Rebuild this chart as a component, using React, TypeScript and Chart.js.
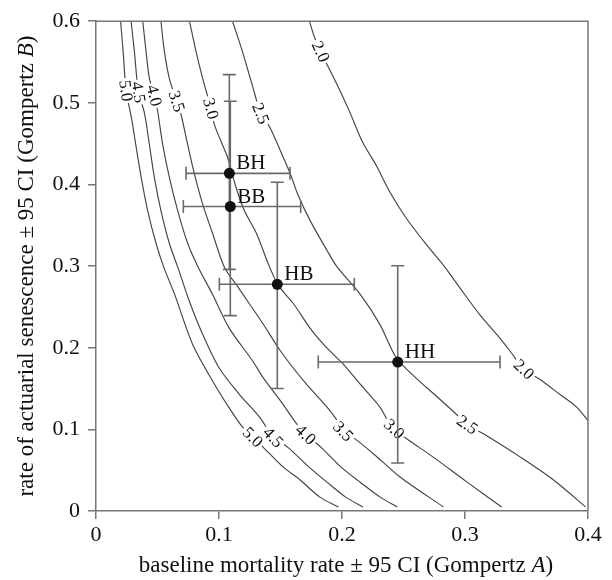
import React, { useEffect, useRef } from 'react';
import { Chart, registerables } from 'chart.js';

Chart.register(...registerables);

// ---- axis ticks ----
const xTickValues = [0, 0.1, 0.2, 0.3, 0.4];
const xTickLabels = ['0', '0.1', '0.2', '0.3', '0.4'];
const yTickValues = [0, 0.1, 0.2, 0.3, 0.4, 0.5, 0.6];
const yTickLabels = ['0', '0.1', '0.2', '0.3', '0.4', '0.5', '0.6'];

// ---- contour lines (Gompertz A, Gompertz B) ----
const contour50: [number, number][] = [
  [0.0200, 0.600], [0.0222, 0.560], [0.0245, 0.515], [0.0290, 0.480], [0.0322, 0.450],
  [0.0366, 0.410], [0.0420, 0.368], [0.0488, 0.328], [0.0548, 0.300], [0.0640, 0.265],
  [0.0786, 0.204], [0.0949, 0.159], [0.1080, 0.127], [0.1190, 0.103], [0.1275, 0.0905],
  [0.1360, 0.078], [0.1520, 0.054], [0.1660, 0.038], [0.1820, 0.017], [0.1970, 0.005],
];
const contour45: [number, number][] = [
  [0.0285, 0.600], [0.0312, 0.563], [0.0345, 0.513], [0.0393, 0.488], [0.0434, 0.449],
  [0.0474, 0.409], [0.0528, 0.368], [0.0596, 0.328], [0.0664, 0.299], [0.0759, 0.257],
  [0.0867, 0.2165], [0.1000, 0.1755], [0.1165, 0.143], [0.1330, 0.115], [0.1442, 0.0904],
  [0.1560, 0.078], [0.1730, 0.054], [0.1880, 0.035], [0.2030, 0.017], [0.2170, 0.005],
];
const contour40: [number, number][] = [
  [0.0380, 0.600], [0.0407, 0.563], [0.0434, 0.530], [0.0474, 0.509], [0.0501, 0.490],
  [0.0542, 0.449], [0.0596, 0.409], [0.0664, 0.368], [0.0745, 0.328], [0.0830, 0.299],
  [0.0949, 0.265], [0.1083, 0.224], [0.1274, 0.1837], [0.1360, 0.163], [0.1500, 0.135],
  [0.1630, 0.107], [0.1705, 0.0937], [0.1830, 0.078], [0.1990, 0.054], [0.2150, 0.035],
  [0.2310, 0.017], [0.2450, 0.005],
];
const contour35: [number, number][] = [
  [0.0528, 0.600], [0.0556, 0.563], [0.0596, 0.530], [0.0656, 0.502], [0.0691, 0.486],
  [0.0745, 0.449], [0.0800, 0.413], [0.0867, 0.376], [0.0948, 0.340], [0.1043, 0.299],
  [0.1160, 0.273], [0.1355, 0.230], [0.1500, 0.196], [0.1690, 0.159], [0.1880, 0.127],
  [0.1960, 0.111], [0.2010, 0.0977], [0.2106, 0.0884], [0.2255, 0.0702], [0.2472, 0.0417],
  [0.2824, 0.005],
];
const contour30: [number, number][] = [
  [0.0760, 0.600], [0.0813, 0.563], [0.0867, 0.530], [0.0935, 0.493], [0.0962, 0.4736],
  [0.1016, 0.453], [0.1070, 0.433], [0.1138, 0.3966], [0.1206, 0.368], [0.1305, 0.340],
  [0.1395, 0.305], [0.1480, 0.277], [0.1610, 0.253], [0.1740, 0.224], [0.1875, 0.200],
  [0.2010, 0.180], [0.2150, 0.155], [0.2310, 0.127], [0.2370, 0.111], [0.2425, 0.1006],
  [0.2526, 0.0884], [0.2742, 0.066], [0.3014, 0.0357], [0.3298, 0.005],
];
const contour25: [number, number][] = [
  [0.1110, 0.600], [0.1190, 0.563], [0.1270, 0.522], [0.1340, 0.487], [0.1415, 0.4696],
  [0.1500, 0.441], [0.1580, 0.413], [0.1640, 0.388], [0.1740, 0.356], [0.1875, 0.320],
  [0.1960, 0.299], [0.2150, 0.265], [0.2310, 0.228], [0.2440, 0.188], [0.2600, 0.163],
  [0.2780, 0.139], [0.2940, 0.117], [0.3019, 0.1058], [0.3150, 0.0945], [0.3450, 0.066],
  [0.3720, 0.038], [0.3980, 0.005],
];
const contour20: [number, number][] = [
  [0.1735, 0.600], [0.1775, 0.581], [0.1827, 0.5628], [0.1900, 0.5405], [0.1980, 0.516],
  [0.2065, 0.488], [0.2170, 0.451], [0.2280, 0.423], [0.2390, 0.3905], [0.2526, 0.358],
  [0.2690, 0.3256], [0.2830, 0.300], [0.2960, 0.273], [0.3120, 0.2405], [0.3260, 0.216],
  [0.3366, 0.196], [0.3480, 0.1736], [0.3610, 0.161], [0.3770, 0.143], [0.3910, 0.127],
  [0.4000, 0.1107],
];
const contourLevels = ['2.0', '2.5', '3.0', '3.5', '4.0', '4.5', '5.0'];
const contourLines = [contour20, contour25, contour30, contour35, contour40, contour45, contour50];

// contour label positions (level index, A, B)
const contourLabelLevel = [0, 1, 2, 3, 4, 5, 6, 0, 1, 2, 3, 4, 5, 6];
const contourLabelA = [0.1827, 0.1340, 0.0935, 0.0656, 0.0474, 0.0345, 0.0245, 0.3480, 0.3019, 0.2425, 0.2010, 0.1705, 0.1442, 0.1275];
const contourLabelB = [0.5628, 0.4870, 0.4930, 0.5020, 0.5090, 0.5130, 0.5150, 0.1736, 0.1058, 0.1006, 0.0977, 0.0937, 0.0904, 0.0905];

// ---- groups with 95% CI ----
const groupNames = ['BH', 'BB', 'HB', 'HH'];
const groupA = [0.1084, 0.1092, 0.1474, 0.2453];
const groupALow = [0.0732, 0.0710, 0.1003, 0.1807];
const groupAHigh = [0.1577, 0.1664, 0.2100, 0.3285];
const groupB = [0.4136, 0.3730, 0.2777, 0.1825];
const groupBLow = [0.2960, 0.2393, 0.1500, 0.0588];
const groupBHigh = [0.5345, 0.5020, 0.4027, 0.3005];

const SERIF = '"Liberation Serif", "Times New Roman", serif';

type Part = { text: string; italic?: boolean };
const xTitle: Part[] = [{ text: 'baseline mortality rate ± 95 CI (Gompertz ' }, { text: 'A', italic: true }, { text: ')' }];
const yTitle: Part[] = [{ text: 'rate of actuarial senescence ± 95 CI (Gompertz ' }, { text: 'B', italic: true }, { text: ')' }];

function drawMixed(ctx: CanvasRenderingContext2D, parts: Part[], cx: number, cy: number, size: number) {
  const fonts = parts.map((p) => `${p.italic ? 'italic ' : ''}${size}px ${SERIF}`);
  let total = 0;
  const widths = parts.map((p, i) => {
    ctx.font = fonts[i];
    const w = ctx.measureText(p.text).width;
    total += w;
    return w;
  });
  let x = cx - total / 2;
  ctx.textAlign = 'left';
  ctx.textBaseline = 'alphabetic';
  parts.forEach((p, i) => {
    ctx.font = fonts[i];
    ctx.fillText(p.text, x, cy);
    x += widths[i];
  });
}

const overlayPlugin = {
  id: 'overlay',
  beforeDatasetDraw(chart: any, args: any) {
    if (args.index !== 0) return;
    const ctx: CanvasRenderingContext2D = chart.ctx;
    const xs = chart.scales.x;
    const ys = chart.scales.y;
    // contour labels
    ctx.save();
    ctx.font = `17px ${SERIF}`;
    contourLabelLevel.forEach((lev, k) => {
      const pts = contourLines[lev];
      const a = contourLabelA[k];
      const b = contourLabelB[k];
      let best = 0;
      let bd = Infinity;
      pts.forEach((p, i) => {
        const d = Math.abs(p[1] - b);
        if (d < bd) { bd = d; best = i; }
      });
      const i0 = Math.max(0, best - 1);
      const i1 = Math.min(pts.length - 1, best + 1);
      const dx = xs.getPixelForValue(pts[i1][0]) - xs.getPixelForValue(pts[i0][0]);
      const dy = ys.getPixelForValue(pts[i1][1]) - ys.getPixelForValue(pts[i0][1]);
      const ang = Math.atan2(dy, dx);
      const px = xs.getPixelForValue(a);
      const py = ys.getPixelForValue(b);
      const txt = contourLevels[lev];
      const w = ctx.measureText(txt).width;
      ctx.save();
      ctx.translate(px, py);
      ctx.rotate(ang);
      ctx.fillStyle = '#fff';
      ctx.fillRect(-w / 2 - 2, -7, w + 4, 14);
      ctx.fillStyle = '#111';
      ctx.textAlign = 'center';
      ctx.textBaseline = 'middle';
      ctx.fillText(txt, 0, 1);
      ctx.restore();
    });
    ctx.restore();
    // error bars
    ctx.save();
    ctx.strokeStyle = '#6a6a6a';
    ctx.lineWidth = 1.6;
    const cap = 6.5;
    groupNames.forEach((_, i) => {
      const cx = xs.getPixelForValue(groupA[i]);
      const cy = ys.getPixelForValue(groupB[i]);
      const xl = xs.getPixelForValue(groupALow[i]);
      const xh = xs.getPixelForValue(groupAHigh[i]);
      const yl = ys.getPixelForValue(groupBLow[i]);
      const yh = ys.getPixelForValue(groupBHigh[i]);
      ctx.beginPath();
      ctx.moveTo(xl, cy); ctx.lineTo(xh, cy);
      ctx.moveTo(xl, cy - cap); ctx.lineTo(xl, cy + cap);
      ctx.moveTo(xh, cy - cap); ctx.lineTo(xh, cy + cap);
      ctx.moveTo(cx, yl); ctx.lineTo(cx, yh);
      ctx.moveTo(cx - cap, yl); ctx.lineTo(cx + cap, yl);
      ctx.moveTo(cx - cap, yh); ctx.lineTo(cx + cap, yh);
      ctx.stroke();
    });
    ctx.restore();
  },
  afterDatasetsDraw(chart: any) {
    const ctx: CanvasRenderingContext2D = chart.ctx;
    const xs = chart.scales.x;
    const ys = chart.scales.y;
    const area = chart.chartArea;
    ctx.save();
    ctx.strokeStyle = '#777';
    ctx.lineWidth = 1.5;
    ctx.beginPath();
    ctx.moveTo(area.left, area.top);
    ctx.lineTo(area.right, area.top);
    ctx.lineTo(area.right, area.bottom);
    ctx.stroke();
    ctx.fillStyle = '#111';
    ctx.font = `21px ${SERIF}`;
    ctx.textAlign = 'left';
    ctx.textBaseline = 'alphabetic';
    groupNames.forEach((n, i) => {
      const px = xs.getPixelForValue(groupA[i]);
      const py = ys.getPixelForValue(groupB[i]);
      ctx.fillText(n, px + 7, py - 4);
    });
    ctx.restore();
  },
  afterDraw(chart: any) {
    const ctx: CanvasRenderingContext2D = chart.ctx;
    const area = chart.chartArea;
    ctx.save();
    ctx.fillStyle = '#111';
    drawMixed(ctx, xTitle, (area.left + area.right) / 2 + 4, 572, 23);
    ctx.translate(33, (area.top + area.bottom) / 2);
    ctx.rotate(-Math.PI / 2);
    drawMixed(ctx, yTitle, 0, 0, 23);
    ctx.restore();
  },
};

export default function App() {
  const ref = useRef<HTMLCanvasElement>(null);
  useEffect(() => {
    if (!ref.current) return;
    const tickFont = { family: SERIF, size: 22 };
    const contourSets = contourLines.map((pts, i) => ({
      label: contourLevels[i],
      data: pts.map((p) => ({ x: p[0], y: p[1] })),
      showLine: true,
      borderColor: '#444',
      borderWidth: 1.15,
      pointRadius: 0,
      tension: 0.3,
      fill: false,
    }));
    const chart = new Chart(ref.current, {
      type: 'scatter',
      data: {
        datasets: [
          {
            label: 'groups',
            data: groupA.map((a, i) => ({ x: a, y: groupB[i] })),
            pointRadius: 5.5,
            pointStyle: 'circle',
            backgroundColor: '#111',
            borderColor: '#111',
            borderWidth: 0,
            showLine: false,
          } as any,
          ...(contourSets as any[]),
        ],
      },
      options: {
        responsive: false,
        animation: false,
        devicePixelRatio: 1,
        layout: { padding: { left: 0, top: 19, right: 24, bottom: 0 } },
        plugins: { legend: { display: false }, tooltip: { enabled: false } },
        scales: {
          x: {
            type: 'linear',
            min: 0,
            max: 0.4,
            afterBuildTicks: (s: any) => { s.ticks = xTickValues.map((v) => ({ value: v })); },
            afterFit: (s: any) => { s.height = 69; },
            ticks: {
              callback: (v: any) => xTickLabels[xTickValues.findIndex((t) => Math.abs(t - Number(v)) < 1e-9)],
              font: tickFont,
              color: '#111',
              padding: 3,
              maxRotation: 0,
              autoSkip: false,
            },
            grid: { drawOnChartArea: false, drawTicks: true, tickLength: 8, color: '#777', lineWidth: 1.5 },
            border: { display: true, color: '#777', width: 1.5 },
          },
          y: {
            type: 'linear',
            min: 0,
            max: 0.6,
            afterBuildTicks: (s: any) => { s.ticks = yTickValues.map((v) => ({ value: v })); },
            afterFit: (s: any) => { s.width = 96; },
            ticks: {
              callback: (v: any) => yTickLabels[yTickValues.findIndex((t) => Math.abs(t - Number(v)) < 1e-9)],
              font: tickFont,
              color: '#111',
              padding: 8,
              autoSkip: false,
            },
            grid: { drawOnChartArea: false, drawTicks: true, tickLength: 8, color: '#777', lineWidth: 1.5 },
            border: { display: true, color: '#777', width: 1.5 },
          },
        },
      } as any,
      plugins: [overlayPlugin as any],
    });
    return () => chart.destroy();
  }, []);
  return (
    <div style={{ position: 'absolute', left: 0, top: 0, width: 612, height: 580, background: '#fff' }}>
      <canvas ref={ref} width={612} height={580} style={{ display: 'block' }} />
    </div>
  );
}
